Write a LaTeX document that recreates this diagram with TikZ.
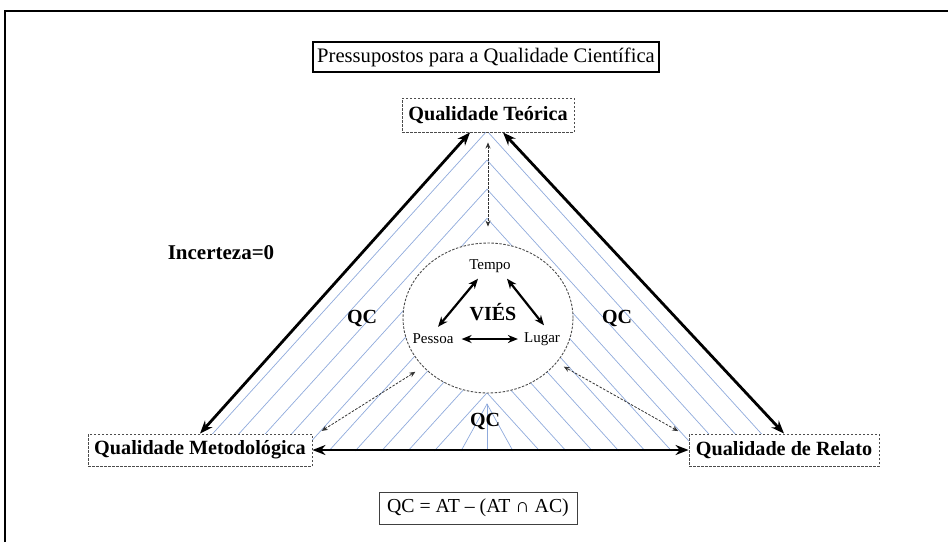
\documentclass[tikz,border=0pt]{standalone}
\usepackage{fontspec}
\setmainfont{Liberation Serif}
\usetikzlibrary{arrows.meta,shapes.geometric}
\definecolor{hatchblue}{HTML}{8FAADC}
\begin{document}
\begin{tikzpicture}[x=1pt,y=-1pt,
  qbox/.style={draw=black!70, dash pattern=on 2.5pt off 1.5pt, line width=0.9pt,
    fill=white, font=\fontsize{20.2}{22}\selectfont\bfseries, inner sep=0pt,
    minimum height=32pt},
  plainbox/.style={fill=white, inner sep=0pt},
  bold20/.style={font=\fontsize{20}{22}\selectfont\bfseries, inner sep=0pt},
  vtext/.style={font=\fontsize{15}{17}\selectfont, inner sep=1pt},
  hatchline/.style={draw=hatchblue, line width=0.7pt},
  bigarrow/.style={line width=2.8pt,
    {Stealth[length=13pt,width=10pt]}-{Stealth[length=13pt,width=10pt]}},
  midarrow/.style={line width=2.2pt,
    {Stealth[length=10pt,width=8pt]}-{Stealth[length=10pt,width=8pt]}},
  linkarrow/.style={draw=black!80, line width=0.8pt, dash pattern=on 2.5pt off 1.5pt,
    {Stealth[length=6pt,width=5pt]}-{Stealth[length=6pt,width=5pt]}},
]
\useasboundingbox (0,0) rectangle (948,542);

% frame lines
\draw[line width=2pt] (5,542) -- (5,11) -- (948,11);

% chevron hatching inside the triangle
\foreach \k in {0,...,9}{
  \draw[hatchline] ({487-290*(1-\k/11)},451) -- (487,{131+320*\k/11})
                   -- ({487+290*(1-\k/11)},451);
}
\draw[hatchline] (461,451) -- (487,404) -- (513,451);
\draw[hatchline] (487,404) -- (487,451);

% bias circle
\node[ellipse, draw=black!70, dash pattern=on 2.5pt off 1.5pt, line width=0.9pt,
      fill=white, minimum width=170pt, minimum height=150pt, inner sep=0pt]
  (bias) at (488,318) {};

\node[vtext] (tempo) at (490,266) {Tempo};
\node[vtext] (pessoa) at (433,339) {Pessoa};
\node[vtext] (lugar) at (542,339) {Lugar};
\node[bold20] (vies) at (493,312) {VIÉS};

\draw[midarrow] ([xshift=-12pt,yshift=-5pt]tempo.south) -- ([xshift=5pt,yshift=6pt]pessoa.north);
\draw[midarrow] ([xshift=17pt,yshift=-5pt]tempo.south) -- ([xshift=2pt,yshift=6pt]lugar.north);
\draw[midarrow, shorten <=7pt, shorten >=5pt] (pessoa.east) -- (lugar.west);

% title and formula
\node[plainbox, draw, line width=2.4pt, minimum width=346pt, minimum height=30pt,
      font=\fontsize{20.6}{22}\selectfont]
  (title) at (486,57) {Pressupostos para a Qualidade Científica};
\node[plainbox, draw=black!75, line width=0.8pt, minimum width=198pt, minimum height=32pt,
      font=\fontsize{19.8}{22}\selectfont]
  (formula) at (478,508) {QC = AT – (AT ∩ AC)};

% quality boxes
\node[qbox, minimum width=172pt, minimum height=34pt] (qt) at (488,115) {Qualidade Teórica};
\node[qbox, minimum width=224pt] (qm) at (200,450) {Qualidade Metodológica};
\node[qbox, minimum width=190pt] (qr) at (784,450) {Qualidade de Relato};

% labels
\node[bold20, font=\fontsize{21}{23}\selectfont\bfseries] (incerteza) at (221,253) {Incerteza=0};
\node[bold20] (qcl) at (362,318) {QC};
\node[bold20] (qcr) at (617,318) {QC};
\node[bold20] (qcb) at (485,421) {QC};

% main arrows
\draw[bigarrow] (qm.north) -- ([xshift=-18pt]qt.south);
\draw[bigarrow] ([xshift=15pt]qt.south) -- (qr.north);
\draw[bigarrow] (qm.east) -- (qr.west);

% dashed links to the circle
\draw[linkarrow, shorten <=10pt, shorten >=16pt] (qt.south) -- (bias.north);
\draw[linkarrow, shorten <=5pt, shorten >=9pt] ([xshift=5pt]qm.north east) -- (bias.217);
\draw[linkarrow, shorten <=5pt, shorten >=8pt] ([xshift=-6pt]qr.north west) -- (bias.327);
\end{tikzpicture}
\end{document}
